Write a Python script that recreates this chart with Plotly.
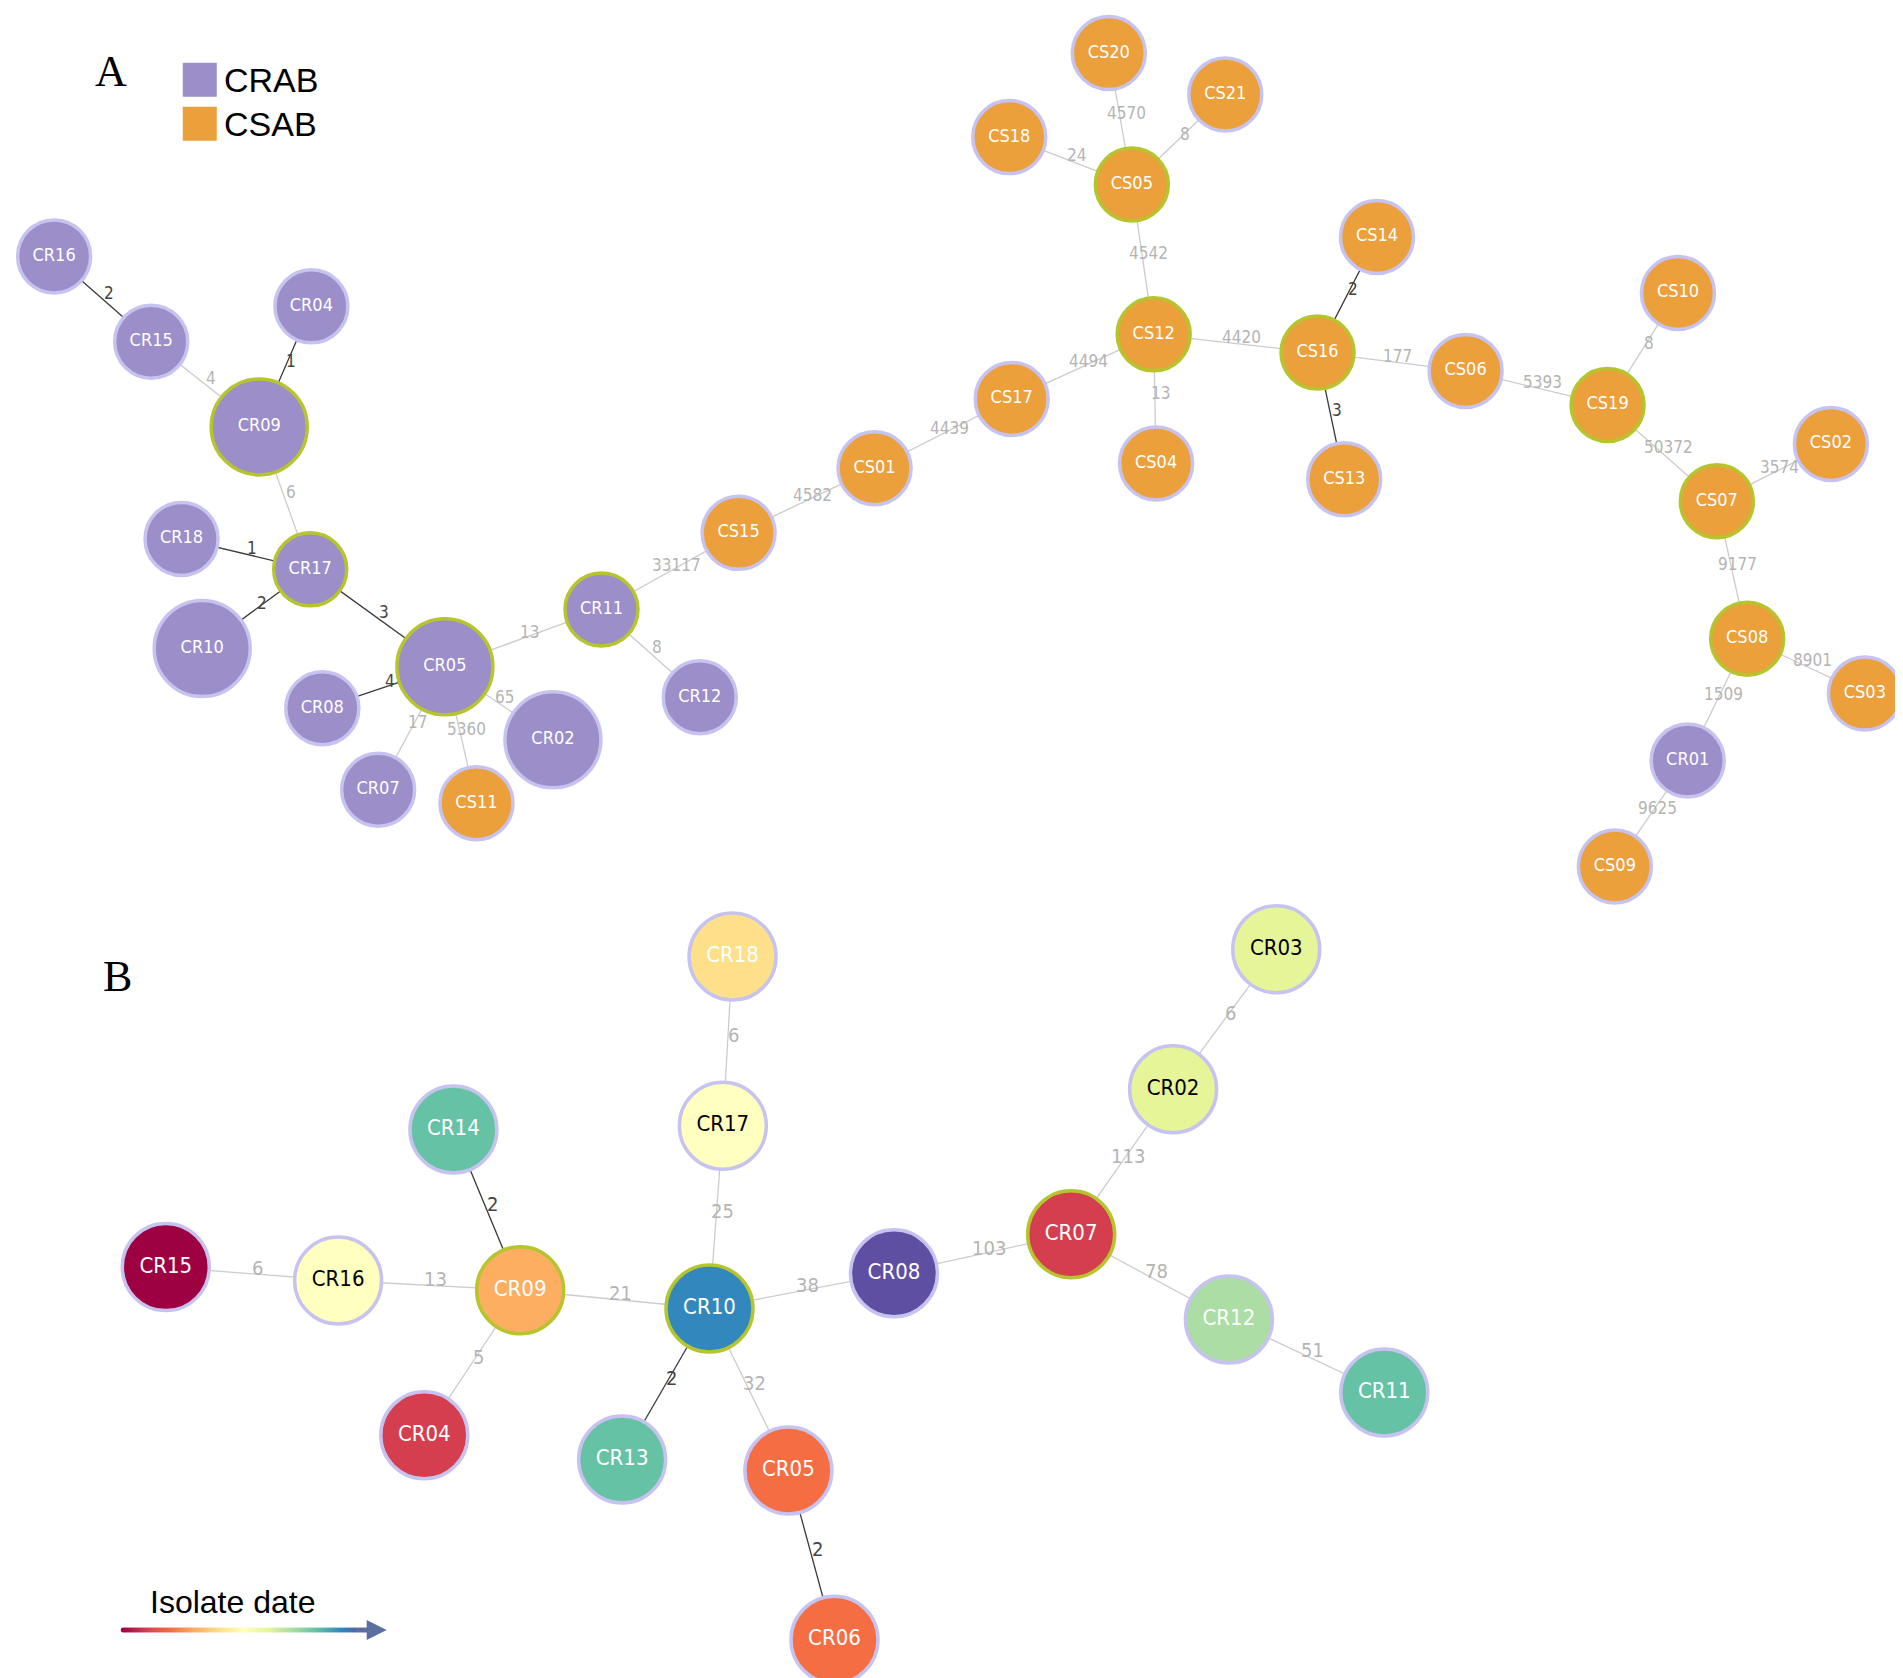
import numpy as np
import plotly.graph_objects as go

# panel A nodes: name, x, y, kind (CRAB/CSAB), radius, hub
a_names = ["CR16", "CR15", "CR04", "CR09", "CR18", "CR17", "CR10", "CR05", "CR08", "CR07", "CS11", "CR02",
           "CR11", "CR12", "CS15", "CS01", "CS17", "CS12", "CS04", "CS05", "CS20", "CS21", "CS18", "CS16",
           "CS14", "CS13", "CS06", "CS19", "CS10", "CS07", "CS02", "CS08", "CS03", "CR01", "CS09"]
a_x = [38, 118, 250, 207, 143, 249, 160, 360, 259, 305, 386, 449, 489, 570, 602, 714, 827, 944, 946, 926,
       907, 1003, 825, 1079, 1128, 1101, 1201, 1318, 1376, 1408, 1502, 1433, 1530, 1384, 1324]
a_y = [204, 274, 245, 344, 436, 461, 526, 541, 575, 642, 653, 601, 494, 566, 431, 378, 321, 268, 374, 145,
       37, 71, 106, 283, 188, 387, 298, 326, 234, 405, 358, 518, 563, 618, 705]
a_big = ["CR09", "CR10", "CR05", "CR02"]
a_hub = ["CR09", "CR17", "CR05", "CR11", "CS12", "CS05", "CS16", "CS19", "CS07", "CS08"]

a_edges = [("CR16", "CR15", "2", 1), ("CR15", "CR09", "4", 0), ("CR04", "CR09", "1", 1), ("CR09", "CR17", "6", 0),
           ("CR18", "CR17", "1", 1), ("CR10", "CR17", "2", 1), ("CR17", "CR05", "3", 1), ("CR05", "CR08", "4", 1),
           ("CR05", "CR07", "17", 0), ("CR05", "CS11", "5360", 0), ("CR05", "CR02", "65", 0),
           ("CR05", "CR11", "13", 0), ("CR11", "CR12", "8", 0), ("CR11", "CS15", "33117", 0),
           ("CS15", "CS01", "4582", 0), ("CS01", "CS17", "4439", 0), ("CS17", "CS12", "4494", 0),
           ("CS12", "CS04", "13", 0), ("CS12", "CS05", "4542", 0), ("CS05", "CS20", "4570", 0),
           ("CS05", "CS21", "8", 0), ("CS05", "CS18", "24", 0), ("CS12", "CS16", "4420", 0),
           ("CS16", "CS14", "2", 1), ("CS16", "CS13", "3", 1), ("CS16", "CS06", "177", 0),
           ("CS06", "CS19", "5393", 0), ("CS19", "CS10", "8", 0), ("CS19", "CS07", "50372", 0),
           ("CS07", "CS02", "3574", 0), ("CS07", "CS08", "9177", 0), ("CS08", "CS03", "8901", 0),
           ("CS08", "CR01", "1509", 0), ("CR01", "CS09", "9625", 0)]

# panel B nodes coloured by isolate date
b_names = ["CR18", "CR17", "CR03", "CR02", "CR14", "CR15", "CR16", "CR09", "CR10", "CR08", "CR07", "CR12",
           "CR11", "CR04", "CR13", "CR05", "CR06"]
b_x = [597, 589, 1045, 960, 367, 130, 272, 422, 578, 730, 876, 1006, 1134, 343, 506, 643, 681]
b_y = [779, 918, 773, 888, 921, 1034, 1045, 1053, 1068, 1039, 1007, 1077, 1137, 1172, 1192, 1201, 1340]
b_colors = ["#fee08b", "#ffffbf", "#e6f598", "#e6f598", "#66c2a5", "#9e0142", "#ffffbf", "#fdae61", "#3288bd",
            "#5e4fa2", "#d53e4f", "#abdda4", "#66c2a5", "#d53e4f", "#66c2a5", "#f46d43", "#f46d43"]
b_dark_text = ["CR17", "CR03", "CR02", "CR16"]
b_hub = ["CR09", "CR10", "CR07"]

b_edges = [("CR18", "CR17", "6", 0), ("CR17", "CR10", "25", 0), ("CR03", "CR02", "6", 0), ("CR02", "CR07", "113", 0),
           ("CR14", "CR09", "2", 1), ("CR15", "CR16", "6", 0), ("CR16", "CR09", "13", 0), ("CR09", "CR10", "21", 0),
           ("CR09", "CR04", "5", 0), ("CR10", "CR08", "38", 0), ("CR08", "CR07", "103", 0), ("CR07", "CR12", "78", 0),
           ("CR12", "CR11", "51", 0), ("CR10", "CR13", "2", 1), ("CR10", "CR05", "32", 0), ("CR05", "CR06", "2", 1)]

fig = go.Figure()
ann = []


def draw_edges(names, xs, ys, edges, fsize):
    pos = dict(zip(names, zip(xs, ys)))
    for a, b, lab, dark in edges:
        (x0, y0), (x1, y1) = pos[a], pos[b]
        fig.add_trace(go.Scatter(x=[x0, x1], y=[y0, y1], mode="lines", hoverinfo="skip",
                                 line=dict(color="#3a3a3a" if dark else "#cccccc", width=1.3)))
        ann.append(dict(x=(x0 + x1) / 2, y=(y0 + y1) / 2, text=lab, showarrow=False, xshift=6, yshift=6,
                        font=dict(size=fsize, color="#444444" if dark else "#b4b4b4", family="DejaVu Sans Condensed")))


draw_edges(a_names, a_x, a_y, a_edges, 17)
draw_edges(b_names, b_x, b_y, b_edges, 20)

# panel A nodes
a_col = ["#9b8ec9" if n.startswith("CR") else "#eba03c" for n in a_names]
a_size = [96 if n in a_big else 73 for n in a_names]
a_line = ["#b6c42e" if n in a_hub else "#c7c3f0" for n in a_names]
fig.add_trace(go.Scatter(x=a_x, y=a_y, mode="markers+text", text=a_names, hoverinfo="text",
                         marker=dict(size=a_size, color=a_col, opacity=1, line=dict(color=a_line, width=3.5)),
                         textfont=dict(color="white", size=18, family="DejaVu Sans Condensed")))

# panel B nodes
b_tc = ["black" if n in b_dark_text else "white" for n in b_names]
b_line = ["#b6c42e" if n in b_hub else "#c7c3f0" for n in b_names]
fig.add_trace(go.Scatter(x=b_x, y=b_y, mode="markers+text", text=b_names, hoverinfo="text",
                         marker=dict(size=87, color=b_colors, opacity=1, line=dict(color=b_line, width=3.5)),
                         textfont=dict(color=b_tc, size=22, family="DejaVu Sans Condensed")))

# legend squares
fig.add_trace(go.Scatter(x=[158, 158], y=[59, 95], mode="markers", hoverinfo="skip",
                         marker=dict(symbol="square", size=34, opacity=1, color=["#9b8ec9", "#eba03c"])))
ann.append(dict(x=176, y=59, text="CRAB", showarrow=False, xanchor="left", font=dict(size=34, color="black", family="Liberation Sans")))
ann.append(dict(x=176, y=95, text="CSAB", showarrow=False, xanchor="left", font=dict(size=34, color="black", family="Liberation Sans")))
ann.append(dict(x=85, y=52, text="A", showarrow=False, font=dict(size=44, color="black", family="Liberation Serif")))
ann.append(dict(x=90, y=795, text="B", showarrow=False, font=dict(size=44, color="black", family="Liberation Serif")))

# isolate date gradient arrow
gx = np.linspace(95, 295, 120)
fig.add_trace(go.Scatter(x=gx, y=[1332] * len(gx), mode="markers", hoverinfo="skip",
                         marker=dict(size=5, opacity=1, color=gx, colorscale="Spectral", showscale=False)))
ann.append(dict(x=312, y=1332, ax=285, ay=1332, axref="x", ayref="y", text="", showarrow=True,
                arrowhead=2, arrowsize=1, arrowwidth=4, arrowcolor="#5a6ea0"))
ann.append(dict(x=185, y=1309, text="Isolate date", showarrow=False, font=dict(size=32, color="black", family="Liberation Sans")))

fig.update_layout(width=1903, height=1678, margin=dict(l=0, r=0, t=0, b=0), showlegend=False,
                  plot_bgcolor="white", paper_bgcolor="white", annotations=ann,
                  xaxis=dict(range=[0, 1568], visible=False),
                  yaxis=dict(range=[1378, 0], visible=False))
fig.write_html("out.html")
